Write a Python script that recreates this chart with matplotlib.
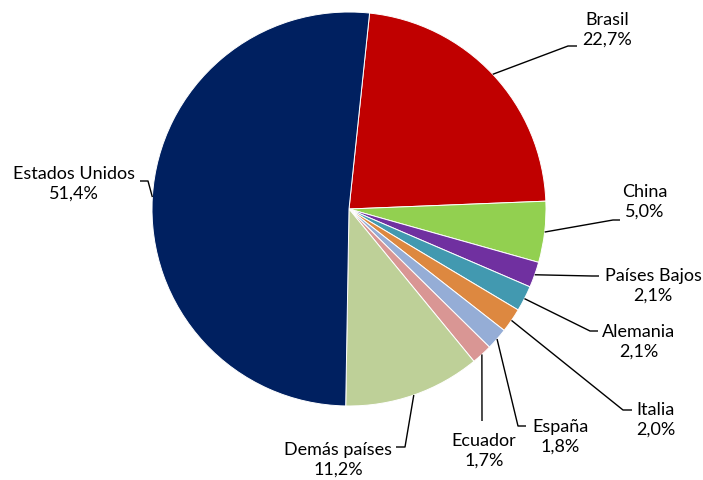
import numpy as np
import matplotlib
matplotlib.use("Agg")
import matplotlib.pyplot as plt

# ---- data ----
countries = ["Brasil", "China", "Países Bajos", "Alemania", "Italia",
             "España", "Ecuador", "Demás países", "Estados Unidos"]
shares = [22.7, 5.0, 2.1, 2.1, 2.0, 1.8, 1.7, 11.2, 51.4]
colors = ["#C00000", "#92D050", "#7030A0", "#4299B0", "#DD8840",
          "#95ADD6", "#D99694", "#BED098", "#002060"]

# label layout (pixel coords: text centre, elbow, line end)
label_text_pos = [(607, 30), (645, 202), (653, 286), (639, 342), (656, 420),
                  (560, 437), (484, 451), (338, 460), (74, 184)]
label_elbow = [(568, 47), (613, 221), (592, 277), (590, 332), (623, 411),
               (518, 427), (482, 421), (405, 448), (148, 182)]
label_end = [(577, 47), (620, 221), (599, 277), (598, 332), (632, 411),
             (526, 427), (482, 422), (396, 448), (140, 182)]

W, H = 703, 481
fig = plt.figure(figsize=(W / 100, H / 100), dpi=100)
ax = fig.add_axes([0, 0, 1, 1])

cx, cy, R = 349, H - 210, 197
start = 84
wedges, _ = ax.pie(shares, colors=colors, startangle=start, counterclock=False,
                   center=(cx, cy), radius=R, frame=True,
                   wedgeprops=dict(edgecolor="white", linewidth=0.7))
ax.set_xlim(0, W)
ax.set_ylim(0, H)
ax.set_aspect("equal")
ax.axis("off")

def fmt(v):
    return f"{v:.1f}".replace(".", ",") + "%"

for w, name, val, tp, el, en in zip(wedges, countries, shares,
                                     label_text_pos, label_elbow, label_end):
    mid = np.deg2rad((w.theta1 + w.theta2) / 2)
    ax_ = cx + R * np.cos(mid)
    ay_ = cy + R * np.sin(mid)
    xs = [ax_, el[0], en[0]]
    ys = [ay_, H - el[1], H - en[1]]
    ax.plot(xs, ys, color="black", lw=1.0, solid_capstyle="butt", zorder=3)
    ax.text(tp[0], H - tp[1], f"{name}\n{fmt(val)}", ha="center", va="center",
            fontsize=13, family=["Lato", "DejaVu Sans"], color="#000000",
            linespacing=1.32)

fig.savefig("out.png", dpi=100)
